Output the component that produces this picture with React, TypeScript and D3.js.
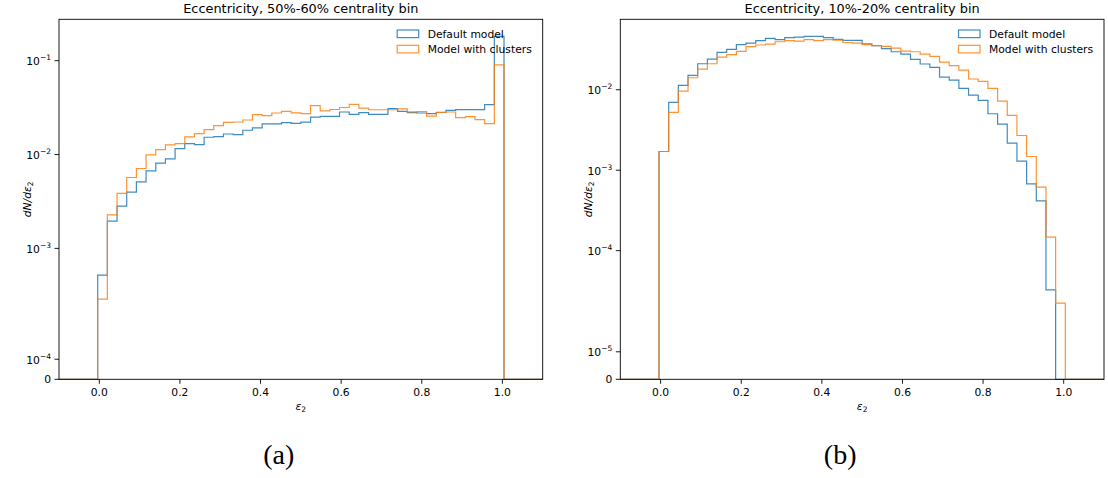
import React from "react";
import * as d3 from "d3";

// Histogram bins: 50 bins of width 0.024 spanning [-0.1, 1.1]
const BIN_START = -0.1;
const BIN_WIDTH = 0.024;
const N_BINS = 50;
const FIRST_BIN = 4; // index of first listed value

const seriesNames = ["Default model", "Model with clusters"];
const seriesColors = ["#1f77b4", "#ff7f0e"];

const titleA = "Eccentricity, 50%-60% centrality bin";
const titleB = "Eccentricity, 10%-20% centrality bin";
const xTicks = [0.0, 0.2, 0.4, 0.6, 0.8, 1.0];

// panel (a): 50%-60%
const defaultA = [5.2e-4, 1.95e-3, 2.82e-3, 3.97e-3, 5.11e-3, 6.69e-3, 8.08e-3, 8.98e-3, 1.158e-2, 1.31e-2, 1.278e-2, 1.528e-2, 1.554e-2, 1.656e-2, 1.632e-2, 1.814e-2, 1.919e-2, 2.117e-2, 2.117e-2, 2.19e-2, 2.153e-2, 2.22e-2, 2.51e-2, 2.555e-2, 2.555e-2, 2.84e-2, 2.684e-2, 2.798e-2, 2.684e-2, 2.684e-2, 3.085e-2, 2.888e-2, 2.798e-2, 2.771e-2, 2.73e-2, 2.818e-2, 2.96e-2, 3.01e-2, 3.01e-2, 3.01e-2, 3.4e-2, 0.1813];
const clustersA = [4.0e-4, 2.28e-3, 3.85e-3, 5.69e-3, 7.1e-3, 9.9e-3, 1.13e-2, 1.265e-2, 1.31e-2, 1.54e-2, 1.673e-2, 1.845e-2, 2.035e-2, 2.206e-2, 2.223e-2, 2.334e-2, 2.665e-2, 2.6e-2, 2.77e-2, 2.888e-2, 2.785e-2, 2.73e-2, 3.32e-2, 2.924e-2, 3.02e-2, 3.17e-2, 3.43e-2, 3.13e-2, 3.0e-2, 3.0e-2, 3.0e-2, 3.07e-2, 2.85e-2, 2.874e-2, 2.57e-2, 2.805e-2, 2.84e-2, 2.475e-2, 2.535e-2, 2.357e-2, 2.138e-2, 9.02e-2];

// panel (b): 10%-20%
const defaultB = [1.708e-3, 6.95e-3, 1.131e-2, 1.506e-2, 2.106e-2, 2.41e-2, 2.91e-2, 3.17e-2, 3.63e-2, 3.81e-2, 4.07e-2, 4.35e-2, 4.19e-2, 4.44e-2, 4.52e-2, 4.6e-2, 4.6e-2, 4.44e-2, 4.22e-2, 4.1e-2, 4.1e-2, 3.73e-2, 3.53e-2, 3.24e-2, 2.97e-2, 2.78e-2, 2.38e-2, 2.09e-2, 1.894e-2, 1.439e-2, 1.32e-2, 1.038e-2, 8.59e-3, 7.36e-3, 5.03e-3, 3.74e-3, 2.17e-3, 1.3e-3, 6.77e-4, 4.16e-4, 3.25e-5, 0];
const clustersB = [1.708e-3, 5.22e-3, 9.63e-3, 1.41e-2, 1.81e-2, 2.106e-2, 2.55e-2, 2.73e-2, 2.995e-2, 3.43e-2, 3.6e-2, 3.7e-2, 3.95e-2, 4.07e-2, 4.03e-2, 4.19e-2, 4.07e-2, 4.19e-2, 4.15e-2, 3.87e-2, 3.81e-2, 3.63e-2, 3.53e-2, 3.46e-2, 3.3e-2, 3.03e-2, 2.97e-2, 2.78e-2, 2.6e-2, 2.21e-2, 1.99e-2, 1.758e-2, 1.36e-2, 1.268e-2, 1.038e-2, 7.24e-3, 4.79e-3, 2.7e-3, 1.48e-3, 6.16e-4, 1.47e-4, 2.77e-5];

const FONT = "DejaVu Sans";
const FS = 10.75;

function fullBins(vals: number[]) {
  const out = new Array(N_BINS).fill(0);
  vals.forEach((v, i) => (out[FIRST_BIN + i] = v));
  return out;
}

// matplotlib-like symlog transform (base 10, linscale 1)
function makeSymlog(L: number) {
  const c = 1 / (1 - 1 / 10);
  const t = (v: number) => (v <= L ? (v / L) * c : c + Math.log10(v / L));
  return t;
}

function Panel({ x0, x1, y0, y1, title, series, label }: any) {
  const L = d3.min(series[0].filter((v: number) => v > 0)) as number;
  const t = makeSymlog(L);
  const maxV = d3.max(series.flat()) as number;
  const tMax = t(maxV) * 1.05;
  const xs = d3.scaleLinear().domain([-0.1, 1.1]).range([x0, x1]);
  const ysT = d3.scaleLinear().domain([0, tMax]).range([y1, y0]);
  const ys = (v: number) => ysT(t(v));
  const edges = d3.range(N_BINS + 1).map((i) => BIN_START + i * BIN_WIDTH);

  const yTicks: number[] = [0];
  for (let e = Math.floor(Math.log10(L)); ; e++) {
    const v = Math.pow(10, e);
    if (t(v) > tMax) break;
    yTicks.push(v);
  }

  const line = d3.line<[number, number]>().x((d) => xs(d[0])).y((d) => ys(d[1]));
  const paths = series.map((vals: number[]) => {
    const b = fullBins(vals);
    const pts: [number, number][] = [[edges[0], 0]];
    b.forEach((v: number, i: number) => {
      pts.push([edges[i], v]);
      pts.push([edges[i + 1], v]);
    });
    pts.push([edges[N_BINS], 0]);
    return line(pts) as string;
  });

  const cx = (x0 + x1) / 2;
  return (
    <g>
      <defs>
        <clipPath id={`clip-${label}`}>
          <rect x={x0} y={y0} width={x1 - x0} height={y1 - y0 + 1} />
        </clipPath>
      </defs>
      <g clipPath={`url(#clip-${label})`}>
        {paths.map((p: string, i: number) => (
          <path key={i} d={p} fill="none" stroke={seriesColors[i]} strokeWidth={1.2} strokeOpacity={0.85} />
        ))}
      </g>
      <rect x={x0} y={y0} width={x1 - x0} height={y1 - y0} fill="none" stroke="#000" strokeWidth={0.9} />
      {xTicks.map((v) => (
        <g key={v}>
          <line x1={xs(v)} x2={xs(v)} y1={y1} y2={y1 + 4.5} stroke="#000" strokeWidth={0.9} />
          <text x={xs(v)} y={y1 + 16.5} textAnchor="middle" fontFamily={FONT} fontSize={FS} fill="#000">
            {v.toFixed(1)}
          </text>
        </g>
      ))}
      {yTicks.map((v) => {
        const y = ys(v);
        return (
          <g key={v}>
            <line x1={x0 - 4.5} x2={x0} y1={y} y2={y} stroke="#000" strokeWidth={0.9} />
            {v === 0 ? (
              <text x={x0 - 8} y={y + 4} textAnchor="end" fontFamily={FONT} fontSize={FS} fill="#000">0</text>
            ) : (
              <text x={x0 - 8} y={y + 4.5} textAnchor="end" fontFamily={FONT} fontSize={FS} fill="#000">
                10
                <tspan dy={-5} fontSize={FS * 0.7}>{`\u2212${-Math.round(Math.log10(v))}`}</tspan>
              </text>
            )}
          </g>
        );
      })}
      <text x={cx} y={12.8} textAnchor="middle" fontFamily={FONT} fontSize={12.9} fill="#000">{title}</text>
      <text x={cx} y={410} textAnchor="middle" fontFamily={FONT} fontSize={FS} fontStyle="italic" fill="#000">
        ε<tspan fontStyle="normal" fontSize={FS * 0.7} dy={2}>2</tspan>
      </text>
      <text transform={`translate(${x0 - 28},${(y0 + y1) / 2}) rotate(-90)`} textAnchor="middle" fontFamily={FONT} fontSize={FS} fontStyle="italic" fill="#000">
        dN/dε<tspan fontStyle="normal" fontSize={FS * 0.7} dy={2}>2</tspan>
      </text>
      {seriesNames.map((n, i) => {
        const ly = y0 + 14.5 + i * 15.3;
        const lx = x1 - 145.5;
        return (
          <g key={n}>
            <rect x={lx} y={ly - 3.8} width={21.5} height={7.6} fill="none" stroke={seriesColors[i]} strokeWidth={1.2} strokeOpacity={0.85} />
            <text x={lx + 30.5} y={ly + 3.8} fontFamily={FONT} fontSize={FS} fill="#000">{n}</text>
          </g>
        );
      })}
      <text x={cx - 22} y={464} textAnchor="middle" fontFamily="Liberation Serif" fontSize={28} fill="#000">{`(${label})`}</text>
    </g>
  );
}

export default function App() {
  return (
    <svg width={1108} height={478} style={{ position: "absolute", left: 0, top: 0, background: "#fff" }}>
      <rect x={0} y={0} width={1108} height={478} fill="#fff" />
      <Panel x0={59} x1={542.7} y0={19.3} y1={379.3} title={titleA} series={[defaultA, clustersA]} label="a" />
      <Panel x0={620.3} x1={1104} y0={19.3} y1={379.3} title={titleB} series={[defaultB, clustersB]} label="b" />
    </svg>
  );
}
